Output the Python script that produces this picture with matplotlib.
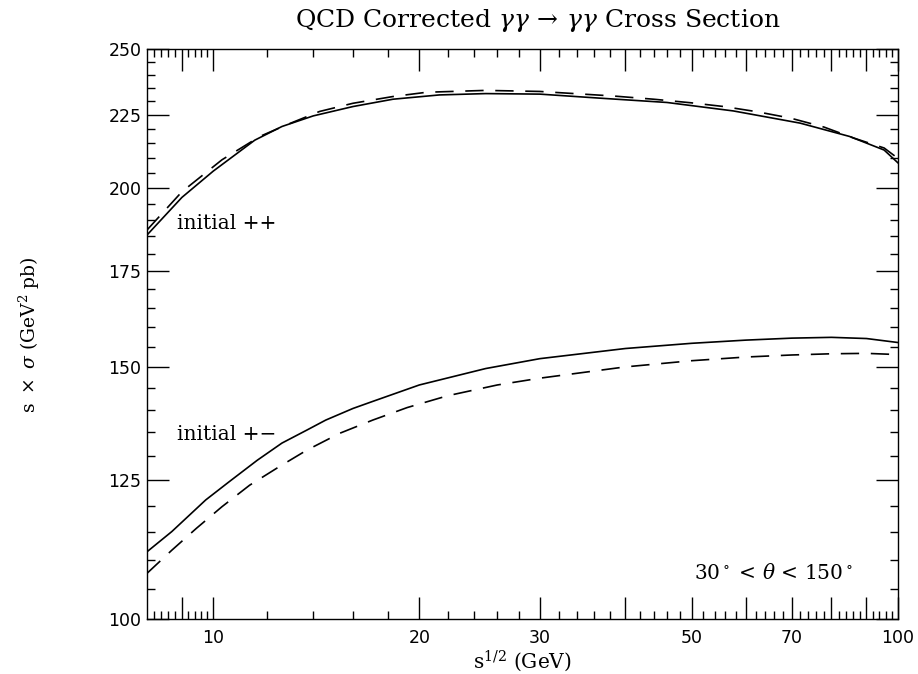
import matplotlib
matplotlib.use('Agg')
import matplotlib.pyplot as plt
from matplotlib.ticker import FixedLocator, NullFormatter, FixedFormatter

plt.rcParams['mathtext.fontset'] = 'dejavuserif'

# initial ++ (solid and dashed)
pp_x_solid = [8.0, 9.0, 10.0, 11.5, 12.6, 14.0, 16.0, 18.3, 21.4, 25, 30, 36.7, 46, 57.5, 72, 85, 95.5, 100]
pp_y_solid = [185.4, 197.0, 205.5, 216.0, 220.8, 224.6, 228.0, 230.7, 232.3, 232.8, 232.6, 231.1, 229.5,
              226.4, 222.0, 217.3, 212.6, 208.3]
pp_x_dash = [8.0, 9.0, 10.3, 11.7, 12.8, 14.3, 16.0, 18.3, 20.5, 25, 30, 38.4, 44, 49.8, 55.7, 62.3, 69.7,
             78, 86.3, 95.5, 100]
pp_y_dash = [186.9, 198.8, 209.3, 217.3, 221.4, 226.2, 229.2, 231.7, 233.3, 234.0, 233.6, 231.9, 230.7,
             229.4, 228.0, 226.1, 223.8, 220.6, 216.7, 213.3, 209.8]

# initial +- (solid and dashed)
pm_x_solid = [8.0, 8.7, 9.75, 10.55, 11.6, 12.6, 13.7, 14.6, 16.0, 17.1, 20, 25, 30, 40, 50, 60, 70, 80, 90, 100]
pm_y_solid = [111.4, 115.1, 121.1, 124.7, 129.1, 132.7, 135.5, 137.7, 140.3, 141.9, 145.7, 149.6, 152.0,
              154.5, 155.8, 156.6, 157.1, 157.3, 157.0, 156.0]
pm_x_dash = [8.0, 8.7, 9.45, 10.3, 11.3, 12.5, 13.7, 15.3, 17.1, 19.2, 22, 26, 30, 40, 50, 60, 70, 80, 90, 100]
pm_y_dash = [107.6, 111.7, 115.7, 119.8, 124.0, 127.8, 131.2, 134.8, 137.7, 140.5, 143.2, 145.7, 147.3,
             150.0, 151.5, 152.4, 152.9, 153.2, 153.3, 153.0]

x_major = [9, 10, 20, 30, 40, 50, 60, 70, 80, 90, 100]
x_labels = ['', '10', '20', '30', '', '50', '', '70', '', '', '100']
x_minor = ([8.2, 8.4, 8.6, 8.8, 9.2, 9.4, 9.6, 9.8, 12, 14, 16, 18]
           + [d + k for d in range(20, 100, 10) for k in (2, 4, 6, 8)])
y_major = [100, 125, 150, 175, 200, 225, 250]
y_minor = [v for v in range(100, 251, 5) if v % 25]

fig = plt.figure(figsize=(9.18, 6.74), dpi=100)
ax = fig.add_axes([0.160, 0.0816, 0.818, 0.8453])

ax.plot(pp_x_solid, pp_y_solid, color='black', lw=1.2)
ax.plot(pp_x_dash, pp_y_dash, color='black', lw=1.2, dashes=(11, 7))
ax.plot(pm_x_solid, pm_y_solid, color='black', lw=1.2)
ax.plot(pm_x_dash, pm_y_dash, color='black', lw=1.2, dashes=(11, 7))

ax.set_xscale('log')
ax.set_yscale('log')
ax.set_xlim(8, 100)
ax.set_ylim(100, 250)

ax.xaxis.set_major_locator(FixedLocator(x_major))
ax.xaxis.set_major_formatter(FixedFormatter(x_labels))
ax.xaxis.set_minor_locator(FixedLocator(x_minor))
ax.xaxis.set_minor_formatter(NullFormatter())
ax.yaxis.set_major_locator(FixedLocator(y_major))
ax.yaxis.set_major_formatter(FixedFormatter([str(v) for v in y_major]))
ax.yaxis.set_minor_locator(FixedLocator(y_minor))
ax.yaxis.set_minor_formatter(NullFormatter())

ax.tick_params(which='both', direction='in', top=True, right=True, width=1)
ax.tick_params(which='major', length=16, labelsize=12.5)
ax.tick_params(axis='x', which='major', pad=7)
ax.tick_params(axis='y', which='major', pad=4)
ax.tick_params(which='minor', length=6)
for lab in ax.get_xticklabels() + ax.get_yticklabels():
    lab.set_family('DejaVu Sans')
for s in ax.spines.values():
    s.set_linewidth(1)

serif = 'DejaVu Serif'
ax.set_title(r'QCD Corrected $\gamma\gamma\,\rightarrow\,\gamma\gamma$ Cross Section',
             family=serif, fontsize=18, pad=16, x=0.52)
ax.set_xlabel(r'$\mathregular{s}^{1/2}$ (GeV)', family=serif, fontsize=14.5, labelpad=1)
ax.set_ylabel(r'$\mathregular{s}\ \times\ \sigma$ (GeV$^2$ pb)', family=serif, fontsize=13.5, labelpad=48)

ax.text(0.04, 0.695, 'initial ++', transform=ax.transAxes, family=serif, fontsize=14.5, va='center')
ax.text(0.04, 0.323, 'initial +\u2212', transform=ax.transAxes, family=serif, fontsize=14.5, va='center')
ax.text(0.94, 0.081, r'30$^\circ$ < $\theta$ < 150$^\circ$', transform=ax.transAxes, family=serif,
        fontsize=14.5, va='center', ha='right')

fig.savefig('out.png', dpi=100)
